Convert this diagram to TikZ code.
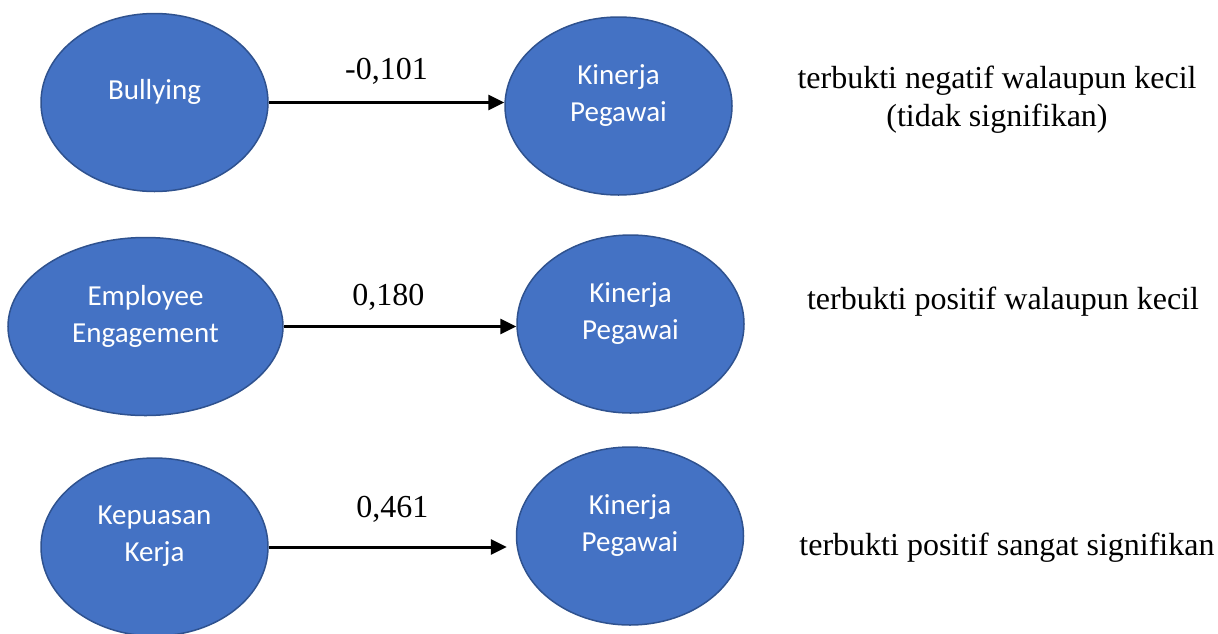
\documentclass[tikz,border=0pt]{standalone}
\usepackage{fontspec}
\setmainfont{Liberation Serif}
\newfontfamily\calibri{Carlito}
\usetikzlibrary{arrows.meta,shapes.geometric,positioning}
\definecolor{ovalblue}{HTML}{4472C4}
\definecolor{ovaledge}{HTML}{2F528F}

\begin{document}
\begin{tikzpicture}[x=1pt,y=-1pt,
    var/.style={ellipse,fill=ovalblue,draw=ovaledge,line width=1.5pt,
        minimum width=227pt,minimum height=178pt,inner sep=0pt,text depth=26pt,
        text=white,align=center,font=\calibri\fontsize{29}{37}\selectfont},
    coef/.style={inner sep=0pt,font=\fontsize{32}{38}\selectfont},
    note/.style={inner sep=0pt,align=center,font=\fontsize{32}{38}\selectfont},
    arr/.style={line width=3pt,-{Triangle[length=16pt,width=15pt]}}]
    \useasboundingbox (0,0) rectangle (1218,633);
    % variabel bebas
    \node[var] (x_1) at (154.5,102.5) {Bullying};
    \node[var,minimum width=275pt] (x_2) at (145.5,326.5) {Employee\\Engagement};
    \node[var] (x_3) at (154.5,547) {Kepuasan\\Kerja};
    % variabel terikat
    \node[var] (y_1) at (618.5,106) {Kinerja\\Pegawai};
    \node[var] (y_2) at (630.5,324) {Kinerja\\Pegawai};
    \node[var] (y_3) at (630,536) {Kinerja\\Pegawai};
    \path[arr]
        (x_1.east) edge node[coef,above=17pt] {-0,101} (x_1.east -| y_1.west)
        (x_2.east) edge node[coef,above=15pt,pos=0.45] {0,180} (x_2.east -| y_2.west)
        (x_3.east) edge[shorten >=9pt] node[coef,above=23pt] {0,461} (x_3.east -| y_3.west);
    % keterangan
    \node[note] (k_1) at (997,100) {terbukti negatif walaupun kecil\\(tidak signifikan)};
    \node[note,anchor=base] (k_2) at (1003,309) {terbukti positif walaupun kecil};
    \node[note,anchor=base] (k_3) at (1007,555) {terbukti positif sangat signifikan};
\end{tikzpicture}
\end{document}
